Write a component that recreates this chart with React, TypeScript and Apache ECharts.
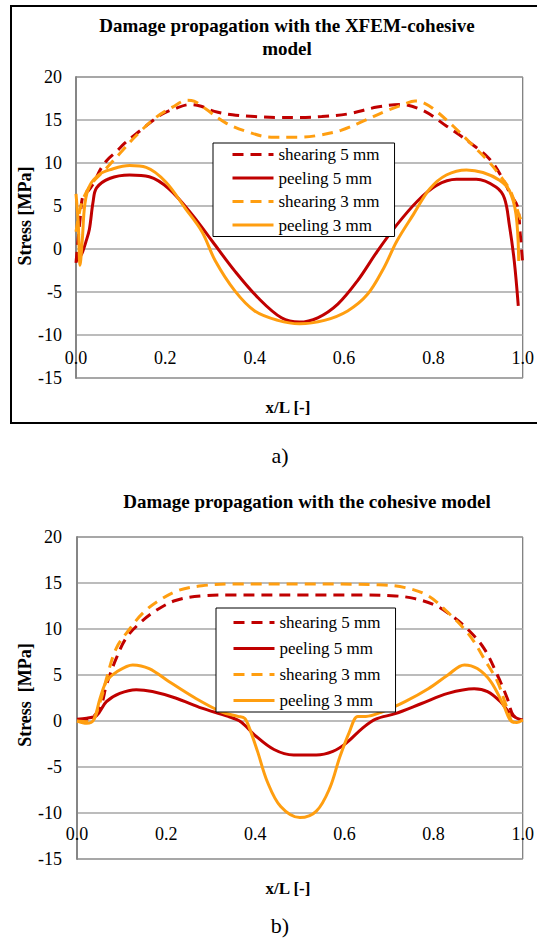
import React, { useEffect, useRef } from 'react';
import * as echarts from 'echarts';

// ---------- data ----------
const seriesNames = ['shearing 5 mm', 'peeling 5 mm', 'shearing 3 mm', 'peeling 3 mm'];
const xTicks = [0, 0.2, 0.4, 0.6, 0.8, 1.0];
const yTicks = [-15, -10, -5, 0, 5, 10, 15, 20];

// a) XFEM-cohesive model
const xfemShear5: [number, number][] = [
  [0, -1.6], [0.009, 3.4], [0.016, 6.3], [0.028, 6.8], [0.042, 7.9], [0.053, 9.1], [0.069, 10.3], [0.09, 11.3],
  [0.109, 12.3], [0.135, 13.4], [0.19, 15.6], [0.225, 16.4], [0.256, 16.8], [0.28, 16.6], [0.31, 16.0],
  [0.35, 15.6], [0.4, 15.4], [0.45, 15.3], [0.5, 15.3], [0.55, 15.4], [0.608, 15.7], [0.674, 16.5],
  [0.726, 16.8], [0.777, 16.1], [0.829, 14.3], [0.881, 12.4], [0.925, 10.5], [0.955, 8.2], [0.973, 6.3],
  [0.988, 5.0], [0.994, 2.0], [1.0, -1.8],
];
const xfemPeel5: [number, number][] = [
  [0, -1.4], [0.008, -1.0], [0.015, -0.3], [0.022, 0.8], [0.03, 2.3], [0.038, 5.4], [0.046, 7.1], [0.075, 8.2],
  [0.12, 8.6], [0.164, 8.4], [0.208, 7.0], [0.26, 4.0], [0.305, 0.9], [0.356, -2.6], [0.408, -5.7],
  [0.46, -8.0], [0.5, -8.5], [0.541, -8.0], [0.586, -6.4], [0.63, -3.7], [0.674, -0.3], [0.718, 2.8],
  [0.763, 5.5], [0.807, 7.4], [0.852, 8.1], [0.896, 8.1], [0.94, 7.2], [0.959, 5.9], [0.97, 2.8],
  [0.981, -1.4], [0.99, -6.6],
];
const xfemShear3: [number, number][] = [
  [0, 2.0], [0.01, 4.8], [0.02, 6.3], [0.038, 7.8], [0.061, 9.0], [0.098, 11.1], [0.135, 13.2],
  [0.179, 15.3], [0.216, 16.5], [0.249, 17.3], [0.264, 17.2], [0.29, 16.3], [0.334, 14.7], [0.386, 13.6],
  [0.437, 13.0], [0.5, 13.0], [0.541, 13.2], [0.593, 13.8], [0.644, 14.9], [0.696, 16.1], [0.733, 16.8],
  [0.759, 17.2], [0.774, 17.1], [0.8, 16.3], [0.844, 14.3], [0.889, 12.0], [0.925, 10.1], [0.948, 8.6],
  [0.97, 7.0], [0.985, 5.0], [0.995, 3.5], [1.0, 3.2],
];
const xfemPeel3: [number, number][] = [
  [0, 6.4], [0.005, 3.0], [0.009, -1.9], [0.014, 1.0], [0.02, 5.3], [0.031, 7.4], [0.053, 8.7],
  [0.075, 9.2], [0.12, 9.7], [0.157, 9.5], [0.201, 7.8], [0.245, 4.7], [0.282, 2.0], [0.312, -1.4],
  [0.356, -4.9], [0.4, -7.2], [0.452, -8.3], [0.5, -8.7], [0.556, -8.3], [0.608, -7.2], [0.652, -5.3],
  [0.689, -2.2], [0.718, 0.9], [0.755, 4.0], [0.792, 7.0], [0.829, 8.6], [0.874, 9.2], [0.911, 8.9],
  [0.948, 8.0], [0.97, 6.8], [0.985, 4.0], [0.991, -1.4],
];

// b) cohesive model
const cohShear5: [number, number][] = [
  [0, 0.1], [0.03, 0.3], [0.052, 1.4], [0.066, 3.9], [0.088, 6.8], [0.11, 9.0], [0.14, 10.6], [0.177, 12.0],
  [0.221, 13.1], [0.28, 13.6], [0.353, 13.7], [0.5, 13.7], [0.641, 13.7], [0.714, 13.6], [0.758, 13.3],
  [0.803, 12.6], [0.839, 11.5], [0.876, 10.0], [0.913, 7.9], [0.943, 5.0], [0.965, 2.5], [0.979, 0.6], [1, 0.1],
];
const cohPeel5: [number, number][] = [
  [0, 0.2], [0.022, 0.3], [0.044, 0.6], [0.066, 2.1], [0.096, 3.0], [0.133, 3.4], [0.169, 3.2], [0.221, 2.5],
  [0.28, 1.4], [0.339, 0.5], [0.368, -0.1], [0.398, -1.5], [0.442, -3.1], [0.486, -3.7], [0.537, -3.7],
  [0.574, -3.3], [0.604, -2.4], [0.64, -0.8], [0.67, 0.2], [0.714, 0.8], [0.773, 1.9], [0.832, 3.0],
  [0.891, 3.5], [0.921, 3.2], [0.95, 2.1], [0.972, 0.8], [0.987, 0.3], [1, 0.1],
];
const cohShear3: [number, number][] = [
  [0, 0], [0.03, -0.1], [0.052, 2.1], [0.066, 4.6], [0.088, 7.9], [0.118, 10.0], [0.147, 11.7], [0.184, 13.1],
  [0.228, 14.2], [0.28, 14.7], [0.353, 14.9], [0.5, 14.9], [0.677, 14.8], [0.736, 14.5], [0.788, 13.6],
  [0.832, 11.8], [0.869, 10.0], [0.891, 8.6], [0.913, 6.8], [0.943, 4.3], [0.965, 1.4], [0.979, -0.1], [1, 0.1],
];
const cohPeel3: [number, number][] = [
  [0, 0], [0.022, -0.25], [0.037, 0.1], [0.052, 2.5], [0.066, 4.3], [0.088, 5.3], [0.125, 6.1], [0.162, 5.7],
  [0.206, 4.3], [0.265, 2.5], [0.324, 1.0], [0.361, 0.5], [0.376, 0.3], [0.387, -0.8], [0.405, -3.3],
  [0.427, -6.6], [0.457, -9.3], [0.5, -10.5], [0.537, -9.8], [0.567, -7.3], [0.589, -4.0], [0.611, -1.2],
  [0.63, 0.5], [0.648, 0.5], [0.685, 1.0], [0.736, 2.1], [0.788, 3.5], [0.832, 5.0], [0.869, 6.1],
  [0.898, 5.7], [0.928, 4.3], [0.957, 1.7], [0.976, -0.1], [0.987, -0.15], [1, 0.1],
];

// ---------- styles ----------
const RED = '#C00000';
const ORANGE = '#FF9E10';
const FONT = "'Liberation Serif', serif";
const DASH = [11, 7];

function mkSeries(name: string, data: [number, number][], idx: number, color: string, dashed: boolean) {
  return {
    type: 'line',
    name,
    xAxisIndex: idx,
    yAxisIndex: idx,
    data,
    symbol: 'none',
    showSymbol: false,
    smooth: 0.35,
    lineStyle: { color, width: 3, type: dashed ? DASH : 'solid', cap: 'butt' },
    itemStyle: { color },
  };
}

function mkX(idx: number, offset: number, margin: number) {
  return {
    type: 'value',
    gridIndex: idx,
    min: xTicks[0],
    max: xTicks[xTicks.length - 1],
    interval: 0.2,
    offset,
    axisLine: { show: false },
    axisTick: { show: false },
    splitLine: { show: false },
    axisLabel: {
      margin,
      fontFamily: FONT,
      fontSize: 18,
      color: '#000',
      formatter: (v: number) => v.toFixed(1),
    },
  };
}

function mkY(idx: number, margin: number) {
  return {
    type: 'value',
    gridIndex: idx,
    min: yTicks[0],
    max: yTicks[yTicks.length - 1],
    interval: 5,
    axisLine: { show: true, onZero: false, lineStyle: { color: '#868686', width: 2 } },
    axisTick: { show: false },
    splitLine: { show: true, lineStyle: { color: '#A6A6A6', width: 1.5 } },
    axisLabel: { margin, fontFamily: FONT, fontSize: 18, color: '#000' },
  };
}

function mkLegend(left: number, top: number, gap: number, padding: number[]) {
  return {
    show: true,
    orient: 'vertical',
    left,
    top,
    data: seriesNames,
    itemWidth: 41,
    itemHeight: 14,
    itemGap: gap,
    padding,
    borderColor: '#000',
    borderWidth: 1,
    backgroundColor: '#fff',
    borderRadius: 0,
    selectedMode: false,
    itemStyle: { color: 'rgba(0,0,0,0)', borderWidth: 0, opacity: 0 },
    lineStyle: { width: 3 },
    textStyle: { fontFamily: FONT, fontSize: 17, color: '#000' },
  };
}

const text = (t: string, x: number, y: number, font: string, rotation = 0) => ({
  type: 'text',
  x,
  y,
  rotation,
  z: 100,
  style: { text: t, font, fill: '#000', align: 'center', verticalAlign: 'middle' },
});

export default function App() {
  const ref = useRef<HTMLDivElement>(null);
  useEffect(() => {
    document.body.style.margin = '0';
    const chart = echarts.init(ref.current!, null, { renderer: 'svg' });
    const option: any = {
      animation: false,
      backgroundColor: '#fff',
      grid: [
        { left: 76, top: 77, width: 451, height: 301, show: true, borderColor: '#5a5a5a', borderWidth: 1, backgroundColor: '#fff' },
        { left: 77, top: 537, width: 452, height: 322, show: true, borderColor: '#5a5a5a', borderWidth: 1, backgroundColor: '#fff' },
      ],
      xAxis: [mkX(0, -43, 14), mkX(1, -46, 12)],
      yAxis: [mkY(0, 14), mkY(1, 15)],
      legend: [mkLegend(213, 143, 6.5, [3, 15, 3, 18]), mkLegend(216, 608, 9, [6, 15, 3, 16])],
      series: [
        mkSeries(seriesNames[0], xfemShear5, 0, RED, true),
        mkSeries(seriesNames[1], xfemPeel5, 0, RED, false),
        mkSeries(seriesNames[2], xfemShear3, 0, ORANGE, true),
        mkSeries(seriesNames[3], xfemPeel3, 0, ORANGE, false),
        mkSeries(seriesNames[0], cohShear5, 1, RED, true),
        mkSeries(seriesNames[1], cohPeel5, 1, RED, false),
        mkSeries(seriesNames[2], cohShear3, 1, ORANGE, true),
        mkSeries(seriesNames[3], cohPeel3, 1, ORANGE, false),
      ],
      graphic: [
        {
          type: 'rect',
          shape: { x: 11, y: 6, width: 540, height: 417 },
          style: { fill: 'none', stroke: '#000', lineWidth: 2 },
          z: 100,
        },
        text('Damage propagation with the XFEM-cohesive', 287, 25, `bold 19px ${FONT}`),
        text('model', 287, 48, `bold 19px ${FONT}`),
        text('Stress [MPa]', 25, 216, `bold 18px ${FONT}`, Math.PI / 2),
        text('x/L [-]', 288, 407, `bold 17px ${FONT}`),
        text('a)', 280, 455, `22px ${FONT}`),
        text('Damage propagation with the cohesive model', 307, 501, `bold 19px ${FONT}`),
        text('Stress  [MPa]', 25, 695, `bold 18px ${FONT}`, Math.PI / 2),
        text('x/L [-]', 288, 888, `bold 17px ${FONT}`),
        text('b)', 280, 925, `22px ${FONT}`),
      ],
    };
    chart.setOption(option);
    return () => chart.dispose();
  }, []);
  return <div ref={ref} style={{ width: 537, height: 941 }} />;
}
